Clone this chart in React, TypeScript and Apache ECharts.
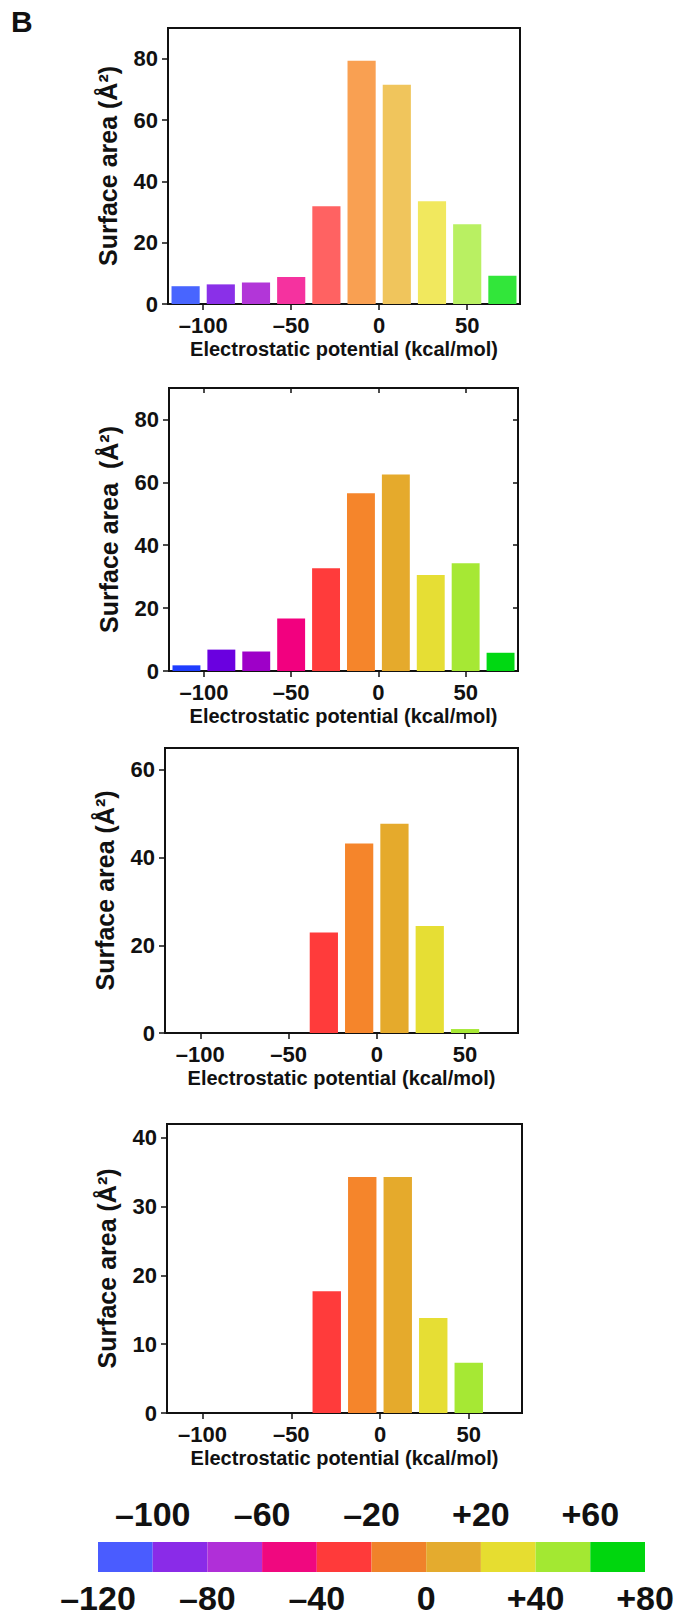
import React, { useEffect, useRef } from "react";
import * as echarts from "echarts";

// ---------- data ----------
const binCenters = [-110, -90, -70, -50, -30, -10, 10, 30, 50, 70];
const BIN_WIDTH = 20;
const X_MIN = -120;
const X_MAX = 80;
const xTickValues = [-100, -50, 0, 50];

const panel1Values = [5.8, 6.4, 7.0, 8.8, 31.9, 79.3, 71.5, 33.5, 26.0, 9.2];
const panel2Values = [1.8, 6.8, 6.2, 16.7, 32.7, 56.5, 62.5, 30.5, 34.3, 5.8];
const panel3Values = [0, 0, 0, 0, 22.9, 43.2, 47.7, 24.4, 0.9, 0];
const panel4Values = [0, 0, 0, 0, 17.7, 34.3, 34.3, 13.8, 7.3, 0];

const panel1YTicks = [0, 20, 40, 60, 80];
const panel2YTicks = [0, 20, 40, 60, 80];
const panel2MirrorYTicks = [20, 40, 60, 80];
const panel3YTicks = [0, 20, 40, 60];
const panel4YTicks = [0, 10, 20, 30, 40];
const panelYMax = [90, 90, 65, 42];

const panel1Colors = ["#4865ff", "#8a30e8", "#b236d8", "#f5329f", "#ff6262", "#f9a052", "#f0c55c", "#f1e85e", "#b9f062", "#32e63a"];
const panel2Colors = ["#1f3dff", "#6a00e0", "#9e00c8", "#f2007f", "#ff3b3b", "#f5852b", "#e5aa2c", "#e6de34", "#a6e834", "#00d812"];
const scaleColors = ["#4a5cff", "#8a2be8", "#b02fd8", "#f0087f", "#ff3a3a", "#f0822a", "#e4ab2e", "#e6dd30", "#a3e832", "#00d60e"];

const scaleEdges = [-120, -100, -80, -60, -40, -20, 0, 20, 40, 60, 80];
const scaleTopLabels = [-100, -60, -20, 20, 60];
const scaleBottomLabels = [-120, -80, -40, 0, 40, 80];

const xAxisTitle = "Electrostatic potential (kcal/mol)";
const yAxisTitles = ["Surface area (Å²)", "Surface area  (Å²)", "Surface area (Å²)", "Surface area (Å²)"];

// ---------- layout ----------
const FONT = "'Liberation Sans', Arial, Helvetica, sans-serif";
const INK = "#111";
const panelLayout = [
  { left: 168, top: 28, width: 352, height: 276 },
  { left: 169, top: 388, width: 349, height: 283 },
  { left: 165, top: 748, width: 353, height: 285 },
  { left: 167, top: 1124, width: 355, height: 289 },
];
const scaleLayout = { left: 98, top: 1542, width: 547, height: 30 };

const fmtSigned = (v: number) => (v < 0 ? "\u2013" + Math.abs(v) : String(v));
const fmtScale = (v: number) => (v < 0 ? "\u2013" + Math.abs(v) : v > 0 ? "+" + v : "0");

function buildOption() {
  const grids: any[] = [];
  const xAxes: any[] = [];
  const yAxes: any[] = [];
  const series: any[] = [];

  const values = [panel1Values, panel2Values, panel3Values, panel4Values];
  const yTicks = [panel1YTicks, panel2YTicks, panel3YTicks, panel4YTicks];
  const colors = [panel1Colors, panel2Colors, panel2Colors, panel2Colors];

  values.forEach((vals, i) => {
    const L = panelLayout[i];
    grids.push({
      left: L.left,
      top: L.top,
      width: L.width,
      height: L.height,
      show: true,
      borderColor: INK,
      borderWidth: 2,
      backgroundColor: "transparent",
      containLabel: false,
    });
    const xIdx = xAxes.length;
    xAxes.push({
      type: "value",
      gridIndex: i,
      min: X_MIN,
      max: X_MAX,
      splitLine: { show: false },
      axisLine: { show: true, onZero: false, lineStyle: { color: INK, width: 2 } },
      axisTick: { show: true, customValues: xTickValues, length: 6, lineStyle: { color: INK, width: 1.5 } },
      axisLabel: {
        customValues: xTickValues,
        formatter: fmtSigned,
        margin: 10,
        fontSize: 22,
        fontWeight: "bold",
        fontFamily: FONT,
        color: INK,
      },
      name: xAxisTitle,
      nameLocation: "middle",
      nameGap: 35,
      nameTextStyle: { fontSize: 20, fontWeight: "bold", fontFamily: FONT, color: INK },
    });
    const yIdx = yAxes.length;
    yAxes.push({
      type: "value",
      gridIndex: i,
      min: 0,
      max: panelYMax[i],
      splitLine: { show: false },
      axisLine: { show: true, onZero: false, lineStyle: { color: INK, width: 2 } },
      axisTick: { show: true, customValues: yTicks[i], length: 6, lineStyle: { color: INK, width: 1.5 } },
      axisLabel: {
        customValues: yTicks[i],
        margin: 10,
        fontSize: 22,
        fontWeight: "bold",
        fontFamily: FONT,
        color: INK,
      },
      name: yAxisTitles[i],
      nameLocation: "middle",
      nameGap: 48,
      nameTextStyle: { fontSize: 25, fontWeight: "bold", fontFamily: FONT, color: INK },
    });
    if (i === 1) {
      xAxes.push({
        type: "value",
        gridIndex: i,
        position: "top",
        min: X_MIN,
        max: X_MAX,
        splitLine: { show: false },
        axisLine: { show: false, onZero: false },
        axisTick: { show: true, inside: true, customValues: xTickValues, length: 5, lineStyle: { color: INK, width: 1.5 } },
        axisLabel: { show: false },
      });
      yAxes.push({
        type: "value",
        gridIndex: i,
        position: "right",
        min: 0,
        max: panelYMax[i],
        splitLine: { show: false },
        axisLine: { show: false, onZero: false },
        axisTick: { show: true, inside: true, customValues: panel2MirrorYTicks, length: 5, lineStyle: { color: INK, width: 1.5 } },
        axisLabel: { show: false },
      });
    }
    series.push({
      type: "custom",
      xAxisIndex: xIdx,
      yAxisIndex: yIdx,
      data: binCenters.map((c, k) => ({ value: [c, vals[k]], itemStyle: { color: colors[i][k] } })),
      renderItem: (params: any, api: any) => {
        const c = api.value(0);
        const v = api.value(1);
        const p0 = api.coord([c - BIN_WIDTH * 0.4, v]);
        const p1 = api.coord([c + BIN_WIDTH * 0.4, 0]);
        return {
          type: "rect",
          shape: { x: p0[0], y: p0[1], width: p1[0] - p0[0], height: p1[1] - p0[1] },
          style: { fill: api.visual("color") },
        };
      },
    });
  });

  // colour scale
  const gi = grids.length;
  grids.push({ ...scaleLayout, show: false });
  const sxBottom = xAxes.length;
  xAxes.push({
    type: "value",
    gridIndex: gi,
    min: X_MIN,
    max: X_MAX,
    position: "bottom",
    splitLine: { show: false },
    axisLine: { show: false, onZero: false },
    axisTick: { show: false },
    axisLabel: {
      customValues: scaleBottomLabels,
      formatter: fmtScale,
      margin: 9,
      fontSize: 34,
      fontWeight: "bold",
      fontFamily: FONT,
      color: INK,
    },
  });
  xAxes.push({
    type: "value",
    gridIndex: gi,
    min: X_MIN,
    max: X_MAX,
    position: "top",
    splitLine: { show: false },
    axisLine: { show: false, onZero: false },
    axisTick: { show: false },
    axisLabel: {
      customValues: scaleTopLabels,
      formatter: fmtScale,
      margin: 11,
      fontSize: 34,
      fontWeight: "bold",
      fontFamily: FONT,
      color: INK,
    },
  });
  const sy = yAxes.length;
  yAxes.push({ type: "value", gridIndex: gi, min: 0, max: 1, show: false });
  series.push({
    type: "custom",
    xAxisIndex: sxBottom,
    yAxisIndex: sy,
    data: scaleColors.map((col, k) => ({ value: [scaleEdges[k], scaleEdges[k + 1]], itemStyle: { color: col } })),
    renderItem: (params: any, api: any) => {
      const p0 = api.coord([api.value(0), 1]);
      const p1 = api.coord([api.value(1), 0]);
      return {
        type: "rect",
        shape: { x: p0[0], y: p0[1], width: p1[0] - p0[0], height: p1[1] - p0[1] },
        style: { fill: api.visual("color") },
      };
    },
  });

  return {
    animation: false,
    backgroundColor: "#ffffff",
    grid: grids,
    xAxis: xAxes,
    yAxis: yAxes,
    series,
    graphic: [
      {
        type: "text",
        left: 11,
        top: 6,
        style: { text: "B", fontSize: 30, fontWeight: "bold", fontFamily: FONT, fill: INK },
      },
    ],
  };
}

export default function App() {
  const ref = useRef<HTMLDivElement>(null);
  useEffect(() => {
    if (!ref.current) return;
    const chart = echarts.init(ref.current, undefined, { renderer: "svg" });
    chart.setOption(buildOption() as any);
    return () => chart.dispose();
  }, []);
  return (
    <div
      ref={ref}
      style={{ position: "absolute", left: 0, top: 0, width: 684, height: 1623, background: "#fff" }}
    />
  );
}
